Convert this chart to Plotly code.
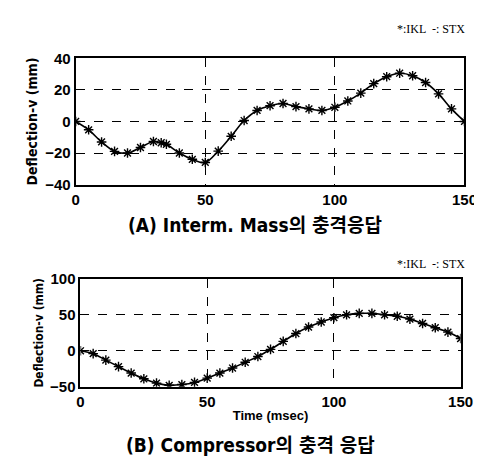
import plotly.graph_objects as go

# ---- data ----
time_ms = [0, 5, 10, 15, 20, 25, 30, 33, 35, 40, 45, 50, 55, 60, 65, 70, 75, 80, 85, 90,
           95, 100, 105, 110, 115, 120, 125, 130, 135, 140, 145, 150]
mass_ikl = [0, -5.3, -13, -19, -20, -16.5, -12.7, -13.5, -14.5, -20, -24, -26, -18.8, -9.4, 0.6, 7,
            10, 11.4, 9.4, 8, 7, 9, 13, 18, 24, 28.4, 30.6, 29, 24.7, 17.5, 8, 0]
mass_stx = mass_ikl

time_b = [0, 5, 10, 15, 20, 25, 30, 35, 40, 45, 50, 55, 60, 65, 70, 75, 80, 85, 90, 95,
          100, 105, 110, 115, 120, 125, 130, 135, 140, 145, 150]
comp_ikl = [0, -4, -13, -22, -31, -39, -45, -48, -47, -44, -38, -31, -24, -16, -8, 2, 13, 24, 33, 40,
            46, 50, 52, 52, 50, 48, 44, 38, 32, 26, 17]
comp_stx = comp_ikl

x_ticks = [0, 50, 100, 150]
y_ticks_a = [-40, -20, 0, 20, 40]
y_ticks_b = [-50, 0, 50, 100]

W, H = 482, 457
FONT = "DejaVu Sans Condensed, Liberation Sans Narrow, Noto Sans CJK KR"

fig = go.Figure()

def add(xs, ys_line, ys_mark, xa, ya):
    fig.add_trace(go.Scatter(x=xs, y=ys_line, mode="lines", line=dict(color="black", width=1.6, shape="spline"),
                             xaxis=xa, yaxis=ya, showlegend=False))
    fig.add_trace(go.Scatter(x=xs, y=ys_mark, mode="markers",
                             marker=dict(symbol="asterisk-open", size=8, color="black", line=dict(width=1.4, color="black")),
                             xaxis=xa, yaxis=ya, showlegend=False))

add(time_ms, mass_stx, mass_ikl, "x", "y")
add(time_b, comp_stx, comp_ikl, "x2", "y2")

axis_common = dict(showline=True, mirror=True, linecolor="black", linewidth=2, ticks="",
                   showgrid=True, gridcolor="black", griddash="dash", gridwidth=1.3, zeroline=False,
                   tickfont=dict(family="Liberation Sans, Arial", size=15, color="black", weight="bold"))

fig.update_layout(
    width=W, height=H, margin=dict(l=0, r=0, t=0, b=0),
    paper_bgcolor="white", plot_bgcolor="white",
    xaxis=dict(domain=[66 / W, 469 / W], range=[0, 150], tickvals=x_ticks, anchor="y", **axis_common),
    yaxis=dict(domain=[1 - 174 / H, 1 - 43 / H], range=[-40, 40], tickvals=y_ticks_a, anchor="x",
               title=dict(text="Deflection-v (mm)", standoff=4, font=dict(family=FONT, size=14, color="black", weight="bold")),
               **axis_common),
    xaxis2=dict(domain=[71 / W, 465 / W], range=[0, 150], tickvals=x_ticks, anchor="y2",
                title=dict(text="Time (msec)", standoff=2, font=dict(family="Liberation Sans, Arial", size=13, color="black", weight="bold")),
                **axis_common),
    yaxis2=dict(domain=[1 - 384 / H, 1 - 272 / H], range=[-50, 100], tickvals=y_ticks_b, anchor="x2",
                title=dict(text="Deflection-v (mm)", standoff=4, font=dict(family=FONT, size=12, color="black", weight="bold")),
                **axis_common),
)

annots = [
    dict(text="*:IKL  -: STX", x=472 / W, y=1 - 12 / H, xanchor="right", yanchor="middle",
         font=dict(family="Liberation Serif", size=12, color="black")),
    dict(text="*:IKL  -: STX", x=472 / W, y=1 - 257 / H, xanchor="right", yanchor="middle",
         font=dict(family="Liberation Serif", size=12, color="black")),
    dict(text="(A) Interm. Mass의 충격응답", x=252 / W, y=1 - 216 / H, xanchor="center", yanchor="middle",
         font=dict(family=FONT, size=19, color="black", weight="bold")),
    dict(text="(B) Compressor의 충격 응답", x=247 / W, y=1 - 445 / H, xanchor="center", yanchor="middle",
         font=dict(family=FONT, size=19, color="black", weight="bold")),
]
for a in annots:
    fig.add_annotation(xref="paper", yref="paper", showarrow=False, **a)

fig.write_html("out.html")
